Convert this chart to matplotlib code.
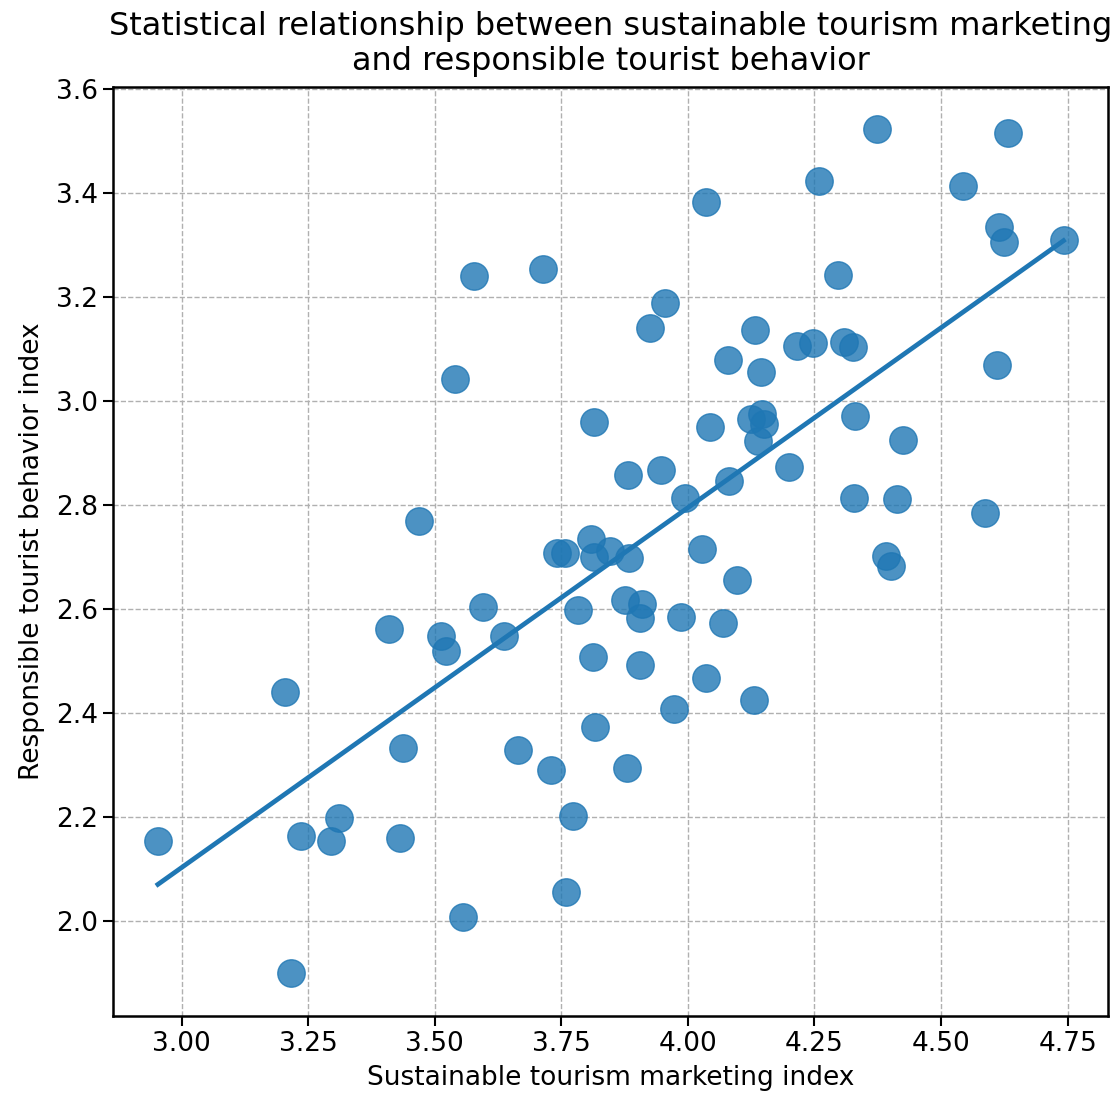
import matplotlib
matplotlib.use('Agg')
import matplotlib.pyplot as plt
import numpy as np

plt.rcParams['font.family'] = 'DejaVu Sans'

# data
marketing_index = [
    2.953, 3.216, 3.205, 3.235, 3.295, 3.310, 3.432, 3.437, 3.409, 3.468,
    3.512, 3.522, 3.540, 3.556, 3.578, 3.595, 3.637, 3.665, 3.713, 3.730,
    3.742, 3.758, 3.759, 3.774, 3.782, 3.809, 3.814, 3.813, 3.817, 3.814,
    3.846, 3.882, 3.884, 3.875, 3.880, 3.910, 3.906, 3.906, 3.926, 3.946,
    3.955, 3.972, 3.987, 3.995, 4.028, 4.035, 4.035, 4.044, 4.069, 4.082,
    4.080, 4.097, 4.125, 4.132, 4.130, 4.138, 4.146, 4.151, 4.145, 4.199,
    4.215, 4.247, 4.259, 4.296, 4.308, 4.326, 4.330, 4.329, 4.374, 4.391,
    4.401, 4.413, 4.424, 4.543, 4.586, 4.610, 4.615, 4.625, 4.632, 4.742,
]
behavior_index = [
    2.155, 1.901, 2.440, 2.165, 2.155, 2.199, 2.160, 2.333, 2.562, 2.770,
    2.548, 2.519, 3.042, 2.008, 3.241, 2.605, 2.548, 2.330, 3.254, 2.291,
    2.709, 2.708, 2.056, 2.203, 2.599, 2.735, 2.960, 2.509, 2.373, 2.700,
    2.712, 2.858, 2.698, 2.617, 2.294, 2.610, 2.583, 2.492, 3.140, 2.867,
    3.188, 2.408, 2.586, 2.813, 2.716, 3.383, 2.467, 2.951, 2.574, 2.847,
    3.079, 2.657, 2.965, 3.136, 2.426, 2.924, 2.975, 2.956, 3.057, 2.873,
    3.107, 3.112, 3.424, 3.243, 3.113, 3.105, 2.972, 2.813, 3.524, 2.703,
    2.684, 2.812, 2.925, 3.413, 2.785, 3.070, 3.334, 3.307, 3.515, 3.310,
]

x = np.array(marketing_index)
y = np.array(behavior_index)

fig = plt.figure(figsize=(11.17, 10.99), dpi=100)
ax = fig.add_axes([0.101, 0.0755, 0.891, 0.8453])

ax.scatter(x, y, s=390, color='#1f77b4', alpha=0.8, zorder=3)

# regression line over the data range
slope, intercept = np.polyfit(x, y, 1)
xs = np.linspace(x.min(), x.max(), 100)
ax.plot(xs, slope * xs + intercept, color='#1f77b4', linewidth=3.4, zorder=4)

ax.set_xlim(2.864, 4.830)
ax.set_ylim(1.818, 3.604)
ax.set_xticks([3.00, 3.25, 3.50, 3.75, 4.00, 4.25, 4.50, 4.75])
ax.set_xticklabels(['3.00', '3.25', '3.50', '3.75', '4.00', '4.25', '4.50', '4.75'])
ax.set_yticks([2.0, 2.2, 2.4, 2.6, 2.8, 3.0, 3.2, 3.4, 3.6])
ax.grid(True, linestyle='--', color='#b0b0b0', linewidth=1, zorder=0)
ax.set_axisbelow(True)

for sp in ax.spines.values():
    sp.set_linewidth(1.8)
ax.tick_params(labelsize=19, length=7, width=1.5)

ax.set_xlabel('Sustainable tourism marketing index', fontsize=19, labelpad=6)
ax.set_ylabel('Responsible tourist behavior index', fontsize=19, labelpad=8)
ax.set_title('Statistical relationship between sustainable tourism marketing\n'
             'and responsible tourist behavior', fontsize=23, pad=12)

plt.savefig('out.png', dpi=100, facecolor='white')
